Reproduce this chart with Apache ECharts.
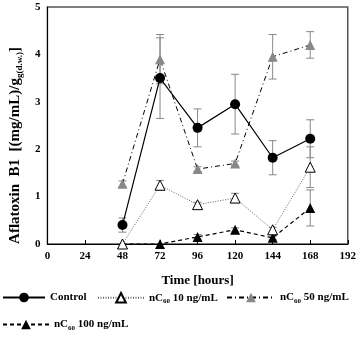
<!DOCTYPE html>
<html>
<head>
<meta charset="utf-8">
<script src="https://cdn.jsdelivr.net/npm/echarts@6/dist/echarts.min.js"></script>
<style>
  html, body { margin: 0; padding: 0; background: #fff; }
  #chart { width: 359px; height: 340px; }
</style>
</head>
<body>
<div id="chart"></div>
<script>
"use strict";
// hours sampled
var hours = [48, 72, 96, 120, 144, 168];
// mean values
var control = [0.40, 3.50, 2.45, 2.95, 1.82, 2.22];
var nc10 = [0.00, 1.24, 0.83, 0.97, 0.30, 1.62];
var nc50 = [1.27, 3.90, 1.58, 1.70, 3.95, 4.20];
var nc100 = [0.00, 0.00, 0.15, 0.30, 0.13, 0.76];
// error (+/-)
var controlErr = [0.15, 0.85, 0.40, 0.63, 0.36, 0.40];
var nc10Err = [0.00, 0.10, 0.05, 0.10, 0.05, 0.43];
var nc50Err = [0.06, 0.52, 0.05, 0.05, 0.47, 0.28];
var nc100Err = [0.00, 0.00, 0.05, 0.04, 0.04, 0.38];

var names = ["Control", "nC60 10 ng/mL", "nC60 50 ng/mL", "nC60 100 ng/mL"];
var serif = "Liberation Serif";

var chart = echarts.init(document.getElementById("chart"));

function pts(vals) {
  return hours.map(function (h, i) { return [h, vals[i]]; });
}

function errSeries(vals, errs) {
  var data = hours.map(function (h, i) {
    return [h, vals[i] - errs[i], vals[i] + errs[i]];
  });
  return {
    type: "custom",
    silent: true,
    z: 1,
    data: data,
    renderItem: function (params, api) {
      if (api.value(2) - api.value(1) < 0.001) return null;
      var lo = api.coord([api.value(0), api.value(1)]);
      var hi = api.coord([api.value(0), api.value(2)]);
      var w = 4;
      var st = { stroke: "#888", lineWidth: 1 };
      return {
        type: "group",
        children: [
          { type: "line", shape: { x1: lo[0], y1: lo[1], x2: hi[0], y2: hi[1] }, style: st },
          { type: "line", shape: { x1: lo[0] - w, y1: lo[1], x2: lo[0] + w, y2: lo[1] }, style: st },
          { type: "line", shape: { x1: hi[0] - w, y1: hi[1], x2: hi[0] + w, y2: hi[1] }, style: st }
        ]
      };
    }
  };
}

function legendAt(name, left, top, w) {
  return {
    data: [name],
    left: left,
    top: top,
    padding: 0,
    itemWidth: w,
    itemHeight: 12,
    itemGap: 0,
    selectedMode: false,
    textStyle: {
      fontFamily: serif, fontWeight: "bold", fontSize: 11, color: "#000",
      rich: {
        m: { fontFamily: serif, fontWeight: "bold", fontSize: 11, color: "#000", lineHeight: 14 },
        s: { fontFamily: serif, fontWeight: "bold", fontSize: 7, color: "#000", lineHeight: 6, verticalAlign: "bottom" }
      }
    },
    formatter: function (n) {
      if (n.indexOf("nC60") === 0) {
        return "{m|nC}{s|60}{m|" + n.slice(4) + "}";
      }
      return "{m|" + n + "}";
    }
  };
}

var option = {
  animation: false,
  grid: {
    left: 35, right: 10, top: 7, bottom: 96,
    show: true, borderColor: "#555", borderWidth: 1.5, backgroundColor: "transparent"
  },
  legend: [
    legendAt(names[0], 2, 292, 42),
    legendAt(names[1], 97, 292, 46),
    legendAt(names[2], 226, 292, 48),
    legendAt(names[3], 2, 319, 46)
  ],
  xAxis: {
    type: "value",
    min: 0, max: 192, interval: 24,
    name: "Time [hours]",
    nameLocation: "middle",
    nameGap: 30,
    nameTextStyle: { fontFamily: serif, fontWeight: "bold", fontSize: 13, color: "#000" },
    axisLine: { lineStyle: { color: "#000", width: 1 } },
    axisTick: { inside: true, length: 4, lineStyle: { color: "#000" } },
    axisLabel: { fontFamily: serif, fontWeight: "bold", fontSize: 11, color: "#000", margin: 7 },
    splitLine: { show: false }
  },
  yAxis: {
    type: "value",
    min: 0, max: 5, interval: 1,
    name: "{m|Aflatoxin  B1  [(mg/mL)/g}{s|g(d.w.)}{m|]}",
    nameLocation: "middle",
    nameRotate: 90,
    nameGap: 22,
    nameTextStyle: {
      padding: [0, 40, 0, 0],
      rich: {
        m: { fontFamily: serif, fontWeight: "bold", fontSize: 15, color: "#000", lineHeight: 17 },
        s: { fontFamily: serif, fontWeight: "bold", fontSize: 9, color: "#000", lineHeight: 8, verticalAlign: "bottom" }
      }
    },
    axisLine: { show: true, lineStyle: { color: "#000", width: 1 } },
    axisTick: { show: false },
    axisLabel: { fontFamily: serif, fontWeight: "bold", fontSize: 11, color: "#000", margin: 7 },
    splitLine: { show: false }
  },
  series: [
    errSeries(control, controlErr),
    errSeries(nc10, nc10Err),
    errSeries(nc50, nc50Err),
    errSeries(nc100, nc100Err),
    {
      name: names[0], type: "line", data: pts(control), z: 5,
      symbol: "circle", symbolSize: 10,
      lineStyle: { color: "#000", width: 1.2 },
      itemStyle: { color: "#000" }
    },
    {
      name: names[1], type: "line", data: pts(nc10), z: 4,
      symbol: "triangle", symbolSize: 10,
      lineStyle: { color: "#666", width: 1, type: [1, 1.5] },
      itemStyle: { color: "#fff", borderColor: "#000", borderWidth: 1 }
    },
    {
      name: names[2], type: "line", data: pts(nc50), z: 3,
      symbol: "triangle", symbolSize: 10,
      lineStyle: { color: "#000", width: 1, type: [5, 3, 1, 3] },
      itemStyle: { color: "#888" }
    },
    {
      name: names[3], type: "line", data: pts(nc100), z: 3,
      symbol: "triangle", symbolSize: 10,
      lineStyle: { color: "#000", width: 1.2, type: [4, 3] },
      itemStyle: { color: "#000" }
    }
  ]
};

chart.setOption(option);
</script>
</body>
</html>
